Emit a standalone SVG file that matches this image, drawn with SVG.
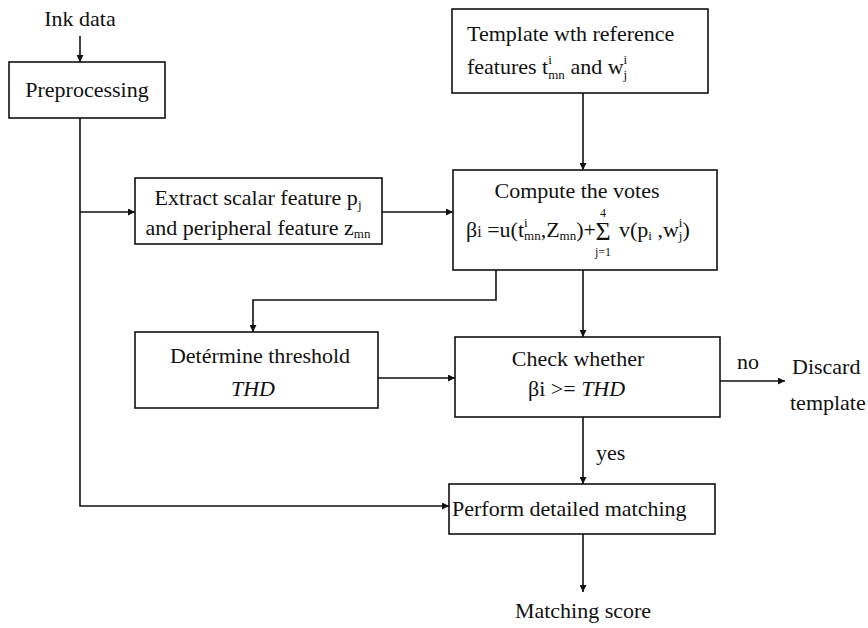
<svg xmlns="http://www.w3.org/2000/svg" width="868" height="628" viewBox="0 0 868 628">
<style>
.t{font-family:"Liberation Serif","Times New Roman",serif;font-size:22px;fill:#111}
.s{font-size:13px}
.box{fill:#fff;stroke:#111;stroke-width:1.6}
.ln{fill:none;stroke:#111;stroke-width:1.6}
</style>
<defs>
<marker id="ah" viewBox="0 0 10 10" refX="10" refY="5" markerWidth="7" markerHeight="7" markerUnits="userSpaceOnUse" orient="auto">
<path d="M0,0 L10,5 L0,10 z" fill="#111"/>
</marker>
</defs>
<rect width="868" height="628" fill="#fff"/>
<g id="connectors">
<line class="ln" x1="80" y1="36" x2="80" y2="62" marker-end="url(#ah)"/>
<polyline class="ln" points="80,118 80,506 449,506" marker-end="url(#ah)"/>
<line class="ln" x1="80" y1="212" x2="135" y2="212" marker-end="url(#ah)"/>
<line class="ln" x1="583" y1="93" x2="583" y2="170" marker-end="url(#ah)"/>
<line class="ln" x1="382" y1="212" x2="453" y2="212" marker-end="url(#ah)"/>
<polyline class="ln" points="496,270 496,300 253,300 253,332" marker-end="url(#ah)"/>
<line class="ln" x1="583" y1="270" x2="583" y2="337" marker-end="url(#ah)"/>
<line class="ln" x1="378" y1="378" x2="455" y2="378" marker-end="url(#ah)"/>
<line class="ln" x1="720" y1="381" x2="785" y2="381" marker-end="url(#ah)"/>
<line class="ln" x1="583" y1="417" x2="583" y2="484" marker-end="url(#ah)"/>
<line class="ln" x1="583" y1="534" x2="583" y2="592" marker-end="url(#ah)"/>
<text class="t" x="737" y="369">no</text>
<text class="t" x="596" y="460">yes</text>
</g>
<g id="ink-data"><text class="t" x="80" y="26" text-anchor="middle">Ink data</text></g>
<g id="preprocessing">
<rect class="box" x="9" y="62" width="156" height="56"/>
<text class="t" x="87" y="97" text-anchor="middle">Preprocessing</text>
</g>
<g id="template">
<rect class="box" x="452" y="9" width="256" height="84"/>
<text class="t" x="467" y="41">Template wth reference</text>
<text class="t" x="467" y="74">features t<tspan class="s" dy="-10">i</tspan><tspan class="s" dx="-3.6" dy="15">mn</tspan><tspan dy="-5"> and w</tspan><tspan class="s" dy="-10">i</tspan><tspan class="s" dx="-3.6" dy="15">j</tspan></text>
</g>
<g id="extract">
<rect class="box" x="135" y="178" width="247" height="66"/>
<text class="t" x="258" y="205" text-anchor="middle">Extract scalar feature p<tspan class="s" dy="4">j</tspan></text>
<text class="t" x="258" y="235" text-anchor="middle">and peripheral feature z<tspan class="s" dy="3">mn</tspan></text>
</g>
<g id="compute">
<rect class="box" x="453" y="170" width="264" height="100"/>
<text class="t" x="577" y="198" text-anchor="middle">Compute the votes</text>
<text class="t" x="466" y="237">β<tspan style="font-size:16px">i</tspan> =u(t<tspan class="s" dy="-10">i</tspan><tspan class="s" dx="-3.6" dy="13">mn</tspan><tspan dy="-3">,Z</tspan><tspan class="s" dy="3">mn</tspan><tspan dy="-3">)+</tspan></text>
<text class="t" x="603" y="240" text-anchor="middle" style="font-size:26px">Σ</text>
<text class="t" x="603" y="217" text-anchor="middle" style="font-size:12px">4</text>
<text class="t" x="603" y="256" text-anchor="middle" style="font-size:12px">j=1</text>
<text class="t" x="619" y="237">v(p<tspan class="s" dy="3">i</tspan><tspan dy="-3"> ,w</tspan><tspan class="s" dy="-10">i</tspan><tspan class="s" dx="-3.6" dy="13">j</tspan><tspan dy="-3">)</tspan></text>
</g>
<g id="determine">
<rect class="box" x="135" y="332" width="243" height="76"/>
<text class="t" x="260" y="363" text-anchor="middle">Detérmine threshold</text>
<text class="t" x="253" y="396" text-anchor="middle" font-style="italic">THD</text>
</g>
<g id="check">
<rect class="box" x="455" y="337" width="265" height="80"/>
<text class="t" x="578" y="366" text-anchor="middle">Check whether</text>
<text class="t" x="528" y="396">βi &gt;= <tspan font-style="italic">THD</tspan></text>
</g>
<g id="discard">
<text class="t" x="792" y="374">Discard</text>
<text class="t" x="790" y="410">template</text>
</g>
<g id="perform">
<rect class="box" x="449" y="484" width="266" height="50"/>
<text class="t" x="452" y="516">Perform detailed matching</text>
</g>
<g id="matching-score"><text class="t" x="583" y="618" text-anchor="middle">Matching score</text></g>
</svg>
